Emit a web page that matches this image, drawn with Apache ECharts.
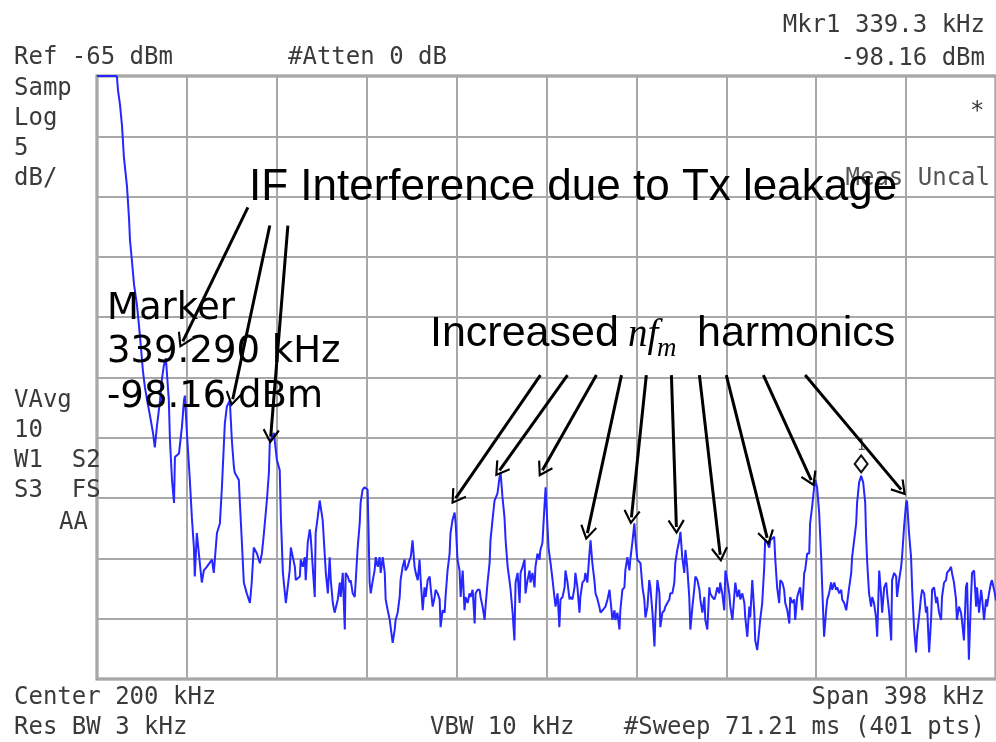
<!DOCTYPE html>
<html><head><meta charset="utf-8">
<script src="https://cdn.jsdelivr.net/npm/echarts@6/dist/echarts.min.js"></script>
<style>html,body{margin:0;padding:0;background:#fff}#c{width:996px;height:742px}</style>
</head><body><div id="c"></div>
<script>
// Frequency (kHz) and level (dBm)
const freqKHz = [1.0,9.8,10.3,11.2,12.1,12.9,14.3,15.2,15.6,16.5,17.4,18.7,20.0,21.3,22.2,23.6,24.4,25.8,26.6,27.5,28.9,29.7,30.6,31.5,32.8,33.3,34.2,35.1,35.5,37.3,38.6,39.5,39.9,40.8,42.1,43.0,43.9,44.3,45.2,46.1,47.4,48.3,49.6,51.9,52.7,54.1,55.4,56.3,57.2,57.6,58.5,59.8,60.7,61.6,62.0,63.8,64.2,65.1,66.0,67.3,68.7,69.5,70.4,71.8,73.1,74.0,74.9,76.2,77.1,77.5,79.3,80.6,81.9,82.4,83.3,84.6,86.3,86.8,87.7,88.6,89.0,90.8,91.2,92.1,93.0,93.4,94.3,95.2,95.6,96.5,97.4,97.8,98.7,99.6,100.9,101.8,102.3,103.2,104.0,104.5,105.4,106.2,107.6,108.5,108.9,109.8,110.7,111.1,112.0,112.9,113.3,114.2,115.1,115.5,116.4,117.3,117.7,118.6,119.5,120.8,121.3,121.7,122.2,123.1,123.9,124.4,125.3,126.1,126.6,127.5,128.4,128.8,129.7,130.6,131.0,131.9,132.8,133.2,134.1,135.0,135.4,136.3,137.2,137.6,138.5,139.4,139.9,140.7,141.6,142.1,143.0,143.8,144.3,145.2,146.0,146.5,147.4,148.3,148.7,149.6,150.5,150.9,151.8,152.7,153.1,154.0,154.9,155.3,156.2,157.1,157.5,158.4,159.3,159.8,160.6,161.5,162.0,162.9,163.7,164.2,165.1,165.9,166.4,167.3,168.2,168.6,169.5,170.4,170.8,171.7,172.6,173.0,173.9,174.8,175.2,176.1,177.0,177.4,178.3,179.2,179.7,180.5,181.4,181.9,182.8,183.6,184.1,185.0,185.8,186.3,187.2,188.1,188.5,189.4,190.3,190.7,191.6,192.5,192.9,193.8,194.7,195.1,196.0,196.9,197.3,198.2,199.1,199.6,200.0,200.9,201.8,202.7,203.5,204.0,204.9,205.7,206.2,207.1,208.0,208.4,209.3,210.2,210.6,211.5,212.4,212.8,213.7,214.6,215.0,215.9,216.8,217.2,218.1,219.0,219.5,220.3,221.2,221.7,222.6,223.4,223.9,224.8,225.6,226.1,227.0,227.9,228.3,229.2,230.1,230.5,231.4,232.3,232.7,233.6,234.5,234.9,235.8,236.7,237.1,238.0,238.9,239.4,240.2,241.6,242.5,243.3,243.8,244.7,245.5,246.0,246.9,247.8,248.2,249.1,250.0,250.4,251.3,252.2,252.6,253.5,254.4,254.8,255.7,256.6,257.0,257.9,258.8,259.3,260.1,261.0,261.5,262.3,263.2,263.7,264.6,265.4,265.9,266.8,267.7,268.1,269.0,269.9,270.3,271.2,272.1,272.5,273.4,274.3,274.7,275.6,276.5,276.9,277.8,278.7,279.2,280.0,280.9,281.4,282.3,283.1,283.6,284.5,285.3,285.8,286.7,287.6,288.0,288.9,289.8,290.2,291.1,292.0,292.4,293.3,294.2,294.6,295.5,296.4,296.8,297.7,298.6,299.1,299.9,300.8,301.3,302.1,303.0,303.5,304.4,305.2,305.7,306.6,307.5,307.9,308.8,309.7,310.1,311.0,311.9,312.3,313.2,314.1,314.5,315.4,316.3,316.7,317.6,318.5,319.0,319.8,320.7,321.6,322.1,322.9,323.8,324.3,325.1,326.0,326.5,327.4,328.2,328.7,329.6,330.5,330.9,331.8,332.7,333.1,334.0,334.9,335.3,336.2,337.1,337.5,338.4,339.3,340.2,341.1,341.5,342.0,342.8,343.7,344.2,345.0,345.9,346.4,347.3,348.1,348.6,349.5,350.4,350.8,351.7,352.6,353.0,353.9,354.8,355.2,356.1,357.0,357.4,358.3,359.2,359.6,360.5,361.4,361.9,362.7,363.6,364.1,364.9,365.8,366.3,367.2,368.0,368.5,369.4,370.3,370.7,371.6,372.5,372.9,373.8,374.7,375.1,376.0,376.9,377.3,378.2,379.1,379.5,380.4,381.3,381.7,382.6,383.5,383.9,384.8,385.7,386.2,387.0,387.9,388.4,389.3,390.2,390.6,391.5,392.4,392.8,393.7,394.6,395.0,395.9,396.8,397.2,398.6,399.0];
const levelDBm = [-65.0,-65.0,-66.2,-67.4,-69.2,-71.7,-74.2,-76.9,-78.6,-80.4,-82.3,-84.0,-86.5,-89.4,-90.8,-92.3,-93.1,-94.6,-95.8,-94.1,-91.9,-90.2,-89.0,-88.4,-91.9,-95.2,-98.5,-100.4,-96.6,-96.3,-94.1,-91.9,-91.5,-94.6,-98.5,-101.6,-104.1,-106.5,-102.9,-104.6,-107.0,-106.0,-105.7,-105.1,-106.2,-102.9,-102.1,-99.1,-95.4,-93.8,-92.4,-91.9,-95.2,-97.4,-97.9,-98.5,-100.2,-103.5,-107.0,-107.9,-108.7,-107.0,-104.1,-104.6,-105.4,-104.6,-102.9,-100.2,-97.9,-95.4,-94.6,-96.8,-97.7,-101.6,-106.2,-108.7,-106.0,-104.1,-104.9,-105.7,-106.8,-106.5,-105.1,-105.7,-104.9,-106.8,-103.7,-102.6,-103.2,-105.7,-108.2,-102.9,-101.6,-100.2,-101.8,-104.6,-106.2,-107.9,-104.9,-106.8,-108.7,-109.5,-108.4,-107.0,-108.2,-106.2,-110.9,-106.2,-106.5,-107.0,-106.8,-107.9,-108.2,-107.0,-104.1,-102.1,-100.4,-99.3,-99.1,-99.3,-103.5,-107.0,-107.9,-106.8,-106.0,-104.9,-105.7,-104.9,-106.2,-104.9,-106.2,-108.4,-109.3,-110.1,-110.7,-112.0,-110.9,-110.1,-109.5,-108.2,-106.8,-105.7,-105.1,-106.0,-105.7,-105.1,-104.9,-103.5,-105.7,-106.2,-106.8,-105.1,-106.8,-109.3,-107.4,-108.2,-106.8,-106.5,-107.4,-109.0,-108.2,-107.6,-107.9,-108.4,-110.7,-109.3,-109.5,-108.2,-106.0,-104.6,-102.9,-101.8,-101.2,-102.1,-105.1,-106.0,-108.2,-106.0,-109.3,-108.2,-108.7,-107.9,-108.2,-107.6,-110.4,-107.9,-107.6,-107.6,-108.2,-109.0,-110.1,-109.0,-107.0,-105.4,-103.5,-101.8,-100.2,-100.2,-99.6,-98.3,-97.9,-99.9,-101.6,-103.5,-105.7,-106.8,-107.6,-109.5,-111.8,-107.0,-106.2,-108.7,-106.2,-105.7,-105.1,-107.9,-106.8,-106.0,-107.0,-106.2,-107.4,-105.7,-104.6,-105.1,-104.3,-103.7,-100.7,-99.1,-100.7,-104.1,-105.4,-106.8,-108.2,-109.0,-107.9,-110.7,-108.4,-108.2,-107.4,-106.0,-107.0,-108.4,-108.2,-108.4,-107.4,-106.2,-107.4,-109.5,-108.2,-107.0,-106.8,-106.2,-107.0,-104.6,-103.5,-105.4,-106.8,-107.9,-108.4,-109.0,-109.5,-109.3,-109.3,-109.0,-108.4,-107.6,-108.4,-110.1,-109.3,-110.1,-109.5,-110.9,-109.3,-107.6,-107.4,-106.0,-104.9,-106.0,-105.1,-103.7,-102.1,-103.5,-105.1,-105.4,-107.4,-108.4,-109.9,-109.0,-106.8,-107.4,-109.5,-112.3,-109.9,-106.8,-107.9,-110.7,-109.5,-109.3,-109.0,-108.7,-108.4,-107.9,-107.9,-107.0,-105.4,-104.3,-103.5,-102.8,-104.9,-106.2,-104.3,-105.7,-108.2,-110.9,-109.0,-107.6,-106.5,-106.8,-107.6,-108.4,-109.5,-108.2,-110.1,-110.9,-107.4,-107.9,-108.2,-108.4,-108.2,-107.4,-107.9,-107.0,-107.9,-109.3,-106.0,-106.8,-107.9,-109.0,-110.1,-108.2,-107.0,-108.2,-107.6,-108.4,-107.9,-108.7,-109.9,-111.5,-109.0,-109.9,-106.8,-109.5,-111.8,-112.6,-110.9,-110.1,-108.7,-105.7,-103.5,-103.7,-104.1,-103.5,-103.5,-103.2,-105.1,-107.4,-108.7,-106.8,-107.0,-107.6,-108.7,-109.3,-110.4,-108.2,-108.7,-108.4,-110.1,-108.2,-107.6,-107.4,-109.3,-106.2,-106.0,-104.6,-104.6,-102.1,-100.7,-99.1,-98.5,-99.1,-101.2,-104.9,-107.6,-111.5,-109.3,-108.4,-107.9,-107.0,-107.6,-107.0,-107.6,-107.4,-107.9,-107.6,-108.4,-108.7,-109.3,-108.7,-107.4,-106.2,-104.9,-103.5,-102.1,-100.4,-98.7,-98.16,-98.7,-100.4,-103.2,-105.4,-107.9,-109.0,-108.2,-108.7,-109.9,-111.5,-106.0,-107.9,-109.5,-107.4,-107.0,-107.9,-109.5,-111.8,-106.8,-106.2,-106.5,-108.2,-106.8,-105.7,-104.9,-102.4,-100.4,-100.2,-102.9,-104.9,-107.6,-110.7,-112.8,-111.2,-109.9,-108.2,-107.6,-107.9,-109.5,-109.0,-112.8,-109.9,-107.6,-107.4,-108.7,-108.2,-109.5,-110.1,-108.2,-107.0,-106.8,-106.2,-106.0,-105.7,-106.2,-107.0,-108.4,-110.1,-109.0,-109.5,-110.1,-111.8,-107.4,-107.0,-113.4,-108.4,-106.2,-106.0,-109.0,-107.4,-109.5,-107.6,-108.2,-110.1,-108.4,-109.0,-107.9,-107.0,-106.8,-108.0,-108.5];

// Screen setup values
const refLevel = -65, dbPerDiv = 5, divisions = 10;
const startKHz = 1, stopKHz = 399;
const marker = [339.3, -98.16];

// Annotation arrows: [fromFreq, fromLevel, toFreq, toLevel]
const ifArrows = [[67.8,-75.9,39.0,-87.0],[77.5,-77.4,61.1,-91.8],[85.5,-77.4,77.9,-94.9]];
const harmArrows = [[197.3,-89.8,159.8,-100.0],[209.3,-89.8,179.2,-97.7],[222.1,-89.8,198.2,-97.7],[233.2,-89.8,218.1,-102.9],[244.2,-89.8,237.6,-101.6],[255.3,-89.8,257.5,-102.4],[267.7,-89.8,276.9,-104.7],[279.6,-89.8,297.7,-103.3],[296.0,-89.8,317.2,-98.5],[314.5,-89.8,357.0,-99.3]];

const traceData = freqKHz.map((f, i) => [f, levelDBm[i]]);
const arrowData = ifArrows.concat(harmArrows).map(a => [{coord:[a[0],a[1]]},{coord:[a[2],a[3]]}]);

const chevron = 'path://M0,0 L10,15 L8,16.5 L0,4.5 L-8,16.5 L-10,15 Z';
const monoFont = '"DejaVu Sans Mono", monospace';
const instColor = '#3a3a3a';

function t(x, y, text, opts) {
  return Object.assign({type:'text', x:x, y:y, z:50, style:Object.assign({text:text, fill:instColor, font:'24px ' + monoFont, textVerticalAlign:'middle'}, opts||{})});
}

const chart = echarts.init(document.getElementById('c'), null, {renderer:'canvas'});
chart.setOption({
  animation:false,
  backgroundColor:'#ffffff',
  grid:{left:97, top:76, width:900, height:603, show:true, borderColor:'#8a8a8a', borderWidth:3, backgroundColor:'#ffffff'},
  xAxis:[
    {type:'value', min:startKHz, max:stopKHz, axisLine:{show:false}, axisTick:{show:false}, axisLabel:{show:false}, splitLine:{show:false}},
    {type:'value', min:0, max:divisions, interval:1, position:'bottom', axisLine:{show:false}, axisTick:{show:false}, axisLabel:{show:false}, splitLine:{show:true, lineStyle:{color:'#a8a8a8', width:2}}}
  ],
  yAxis:{type:'value', min:refLevel - dbPerDiv*divisions, max:refLevel, interval:dbPerDiv, axisLine:{show:false}, axisTick:{show:false}, axisLabel:{show:false}, splitLine:{show:true, lineStyle:{color:'#a8a8a8', width:2}}},
  series:[{
    type:'line', xAxisIndex:0, data:traceData, showSymbol:false, symbol:'none', clip:false,
    lineStyle:{color:'#2626ff', width:2}, z:10,
    markPoint:{
      silent:true, symbol:'diamond', symbolSize:[13,17], symbolOffset:[0,-12],
      itemStyle:{color:'#ffffff', borderColor:'#111', borderWidth:2},
      label:{show:true, position:'top', formatter:'1', color:'#555', fontSize:15, fontFamily:monoFont, distance:1},
      data:[{coord:marker}]
    },
    markLine:{
      silent:true, symbol:['none', chevron], symbolSize:[17,15],
      lineStyle:{color:'#000', width:3, type:'solid'}, label:{show:false},
      emphasis:{disabled:true}, data:arrowData, z:20
    }
  }],
  graphic:[
    t(14, 58, 'Ref -65 dBm'),
    t(288, 58, '#Atten 0 dB'),
    t(985, 26, 'Mkr1 339.3 kHz', {textAlign:'right'}),
    t(985, 59, '-98.16 dBm', {textAlign:'right'}),
    t(14, 89, 'Samp'), t(14, 119, 'Log'), t(14, 149, '5'), t(14, 179, 'dB/'),
    t(14, 401, 'VAvg'), t(14, 431, '10'), t(14, 461, 'W1  S2'), t(14, 491, 'S3  FS'), t(59, 523, 'AA'),
    t(970, 112, '*'),
    t(990, 179, 'Meas Uncal', {textAlign:'right', fill:'#555'}),
    t(14, 698, 'Center 200 kHz'), t(985, 698, 'Span 398 kHz', {textAlign:'right'}),
    t(14, 728, 'Res BW 3 kHz'), t(430, 728, 'VBW 10 kHz'), t(985, 728, '#Sweep 71.21 ms (401 pts)', {textAlign:'right'}),
    {type:'text', x:249, y:188, z:60, style:{text:'IF Interference due to Tx leakage', fill:'#000', font:'44px "Liberation Sans", Arial, sans-serif', textVerticalAlign:'middle'}},
    {type:'text', x:430, y:334, z:60, style:{text:'Increased', fill:'#000', font:'43px "Liberation Sans", Arial, sans-serif', textVerticalAlign:'middle'}},
    {type:'text', x:628, y:336, z:60, style:{text:'nf', fill:'#000', font:'italic 39px "Liberation Serif", "Times New Roman", serif', textVerticalAlign:'middle'}},
    {type:'text', x:657, y:349, z:60, style:{text:'m', fill:'#000', font:'italic 27px "Liberation Serif", "Times New Roman", serif', textVerticalAlign:'middle'}},
    {type:'text', x:697, y:334, z:60, style:{text:'harmonics', fill:'#000', font:'43px "Liberation Sans", Arial, sans-serif', textVerticalAlign:'middle'}},
    {type:'text', x:107, y:309, z:60, style:{text:'Marker', fill:'#000', font:'37px "DejaVu Sans", sans-serif', textVerticalAlign:'middle'}},
    {type:'text', x:107, y:352, z:60, style:{text:'339.290 kHz', fill:'#000', font:'37px "DejaVu Sans", sans-serif', textVerticalAlign:'middle'}},
    {type:'text', x:107, y:397, z:60, style:{text:'-98.16 dBm', fill:'#000', font:'37px "DejaVu Sans", sans-serif', textVerticalAlign:'middle'}}
  ]
});
</script></body></html>
